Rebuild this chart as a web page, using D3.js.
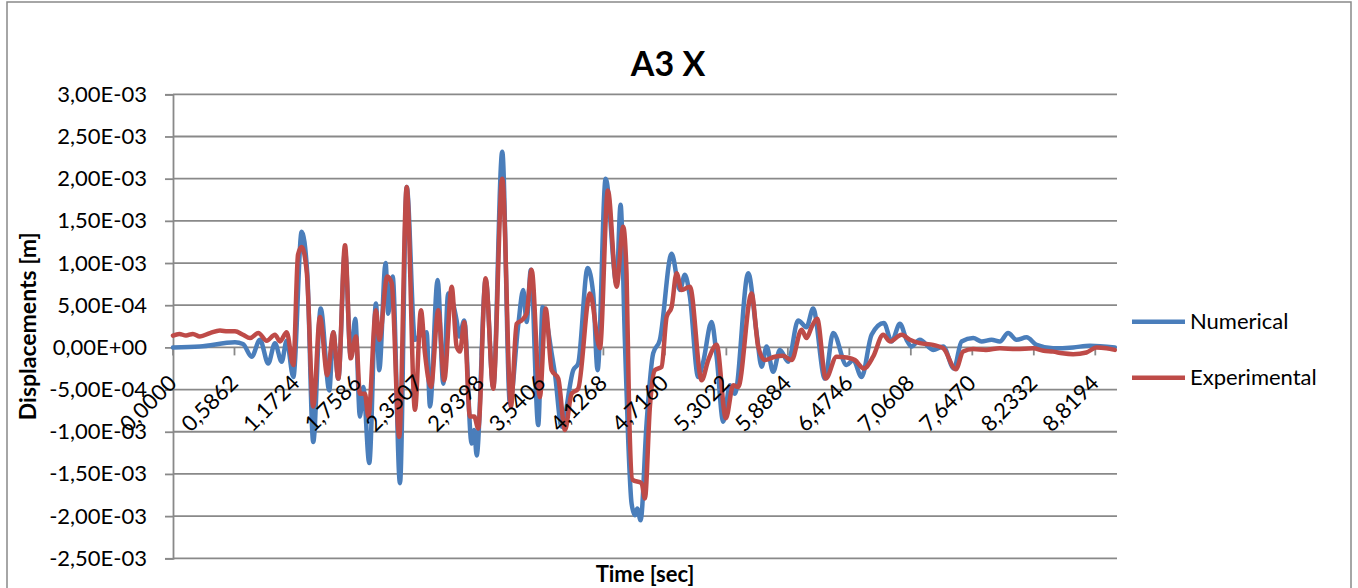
<!DOCTYPE html>
<html>
<head>
<meta charset="utf-8">
<script src="https://cdn.jsdelivr.net/npm/d3@7"></script>
<style>
  html, body { margin: 0; padding: 0; background: #fff; }
  svg { display: block; font-family: Lato, "Open Sans", sans-serif; }
</style>
</head>
<body>
<div id="chart"></div>
<script>
// A3 X - displacement time history, numerical vs experimental
const title = "A3 X";
const xTitle = "Time [sec]";
const yTitle = "Displacements [m]";
const seriesNames = ["Numerical", "Experimental"];

// category labels on the time axis (one every 0.5862 s)
const xLabels = ["0,0000", "0,5862", "1,1724", "1,7586", "2,3507", "2,9398", "3,5406", "4,1268",
  "4,7160", "5,3022", "5,8884", "6,4746", "7,0608", "7,6470", "8,2332", "8,8194"];
const xTickStep = 0.5862;
const xMax = 9.0;

// y ticks in mm (labels show metres)
const yTicks = [3, 2.5, 2, 1.5, 1, 0.5, 0, -0.5, -1, -1.5, -2, -2.5];
const yTickLabels = ["3,00E-03", "2,50E-03", "2,00E-03", "1,50E-03", "1,00E-03", "5,00E-04",
  "0,00E+00", "-5,00E-04", "-1,00E-03", "-1,50E-03", "-2,00E-03", "-2,50E-03"];

// Numerical: time [s], displacement [mm]
const numTime = [0.000, 0.257, 0.591, 0.667, 0.750, 0.829, 0.908, 0.972, 1.036, 1.084, 1.147, 1.227,
  1.280, 1.337, 1.408, 1.490, 1.528, 1.576, 1.640, 1.694, 1.738, 1.782, 1.814, 1.871, 1.935, 1.966,
  2.027, 2.052, 2.094, 2.164, 2.228, 2.307, 2.364, 2.418, 2.450, 2.523, 2.577, 2.624, 2.704, 2.729,
  2.777, 2.847, 2.872, 2.895, 2.981, 3.053, 3.139, 3.212, 3.291, 3.339, 3.371, 3.412, 3.482, 3.524,
  3.610, 3.641, 3.705, 3.816, 3.863, 3.953, 4.006, 4.048, 4.125, 4.229, 4.267, 4.308, 4.340, 4.372,
  4.404, 4.426, 4.458, 4.515, 4.578, 4.642, 4.754, 4.833, 4.880, 4.928, 5.007, 5.055, 5.135, 5.183,
  5.246, 5.309, 5.357, 5.484, 5.564, 5.612, 5.659, 5.722, 5.786, 5.865, 5.960, 6.040, 6.103, 6.215,
  6.294, 6.422, 6.485, 6.565, 6.660, 6.777, 6.851, 6.930, 6.994, 7.041, 7.120, 7.247, 7.343, 7.445,
  7.518, 7.629, 7.709, 7.804, 7.883, 7.962, 8.042, 8.138, 8.233, 8.391, 8.582, 8.741, 8.979];
const numDisp = [0.00, 0.01, 0.06, 0.04, -0.11, 0.09, -0.19, 0.05, -0.17, 0.08, -0.35, 1.37,
  0.88, -1.12, 0.46, -0.51, 0.18, -0.37, 1.15, -0.11, 0.34, -0.82, -0.47, -1.37, 0.52, -0.27,
  1.00, 0.40, 0.84, -1.61, 1.90, 0.09, 0.15, 0.18, -0.70, 0.80, -0.43, 0.64, 0.32, 0.13,
  0.32, -1.14, -0.98, -1.28, 0.80, -0.47, 2.32, -0.66, 0.26, 0.68, 0.30, 0.92, -0.92, 0.48,
  -0.07, -0.31, -0.94, -0.27, -0.19, 0.94, 0.64, -0.27, 2.00, 0.76, 1.69, 0.09, -1.10, -1.85,
  -1.99, -1.91, -2.05, -0.90, -0.07, 0.09, 1.11, 0.68, 0.86, 0.60, -0.35, -0.17, 0.30, -0.11,
  -0.88, -0.45, -0.55, 0.88, 0.17, -0.23, 0.01, -0.29, -0.03, -0.17, 0.32, 0.24, 0.46, -0.37,
  0.17, -0.21, -0.15, -0.35, 0.15, 0.29, 0.07, 0.28, 0.09, 0.01, 0.09, -0.03, 0.01, -0.25,
  0.07, 0.11, 0.07, 0.09, 0.07, 0.17, 0.09, 0.12, 0.03, -0.01, 0.00, 0.02, 0.00];

// Experimental: time [s], displacement [mm]
const expTime = [0.000, 0.060, 0.124, 0.190, 0.257, 0.353, 0.448, 0.520, 0.591, 0.667, 0.734, 0.813,
  0.893, 0.972, 1.020, 1.084, 1.147, 1.192, 1.227, 1.276, 1.337, 1.401, 1.471, 1.528, 1.576, 1.640,
  1.694, 1.745, 1.782, 1.830, 1.862, 1.935, 1.966, 2.043, 2.085, 2.157, 2.228, 2.307, 2.364, 2.402,
  2.459, 2.529, 2.586, 2.657, 2.704, 2.736, 2.777, 2.831, 2.872, 2.910, 2.981, 3.053, 3.139, 3.222,
  3.276, 3.324, 3.371, 3.419, 3.498, 3.553, 3.610, 3.673, 3.737, 3.800, 3.863, 3.975, 4.070, 4.146,
  4.229, 4.292, 4.324, 4.349, 4.382, 4.468, 4.499, 4.547, 4.594, 4.658, 4.706, 4.754, 4.801, 4.849,
  4.928, 5.040, 5.103, 5.183, 5.271, 5.341, 5.388, 5.516, 5.579, 5.643, 5.738, 5.817, 5.898, 5.993,
  6.040, 6.088, 6.141, 6.224, 6.326, 6.422, 6.501, 6.587, 6.675, 6.771, 6.835, 6.946, 7.025, 7.120,
  7.247, 7.343, 7.464, 7.533, 7.628, 7.750, 7.883, 8.040, 8.200, 8.300, 8.391, 8.480, 8.582, 8.709,
  8.805, 8.900, 8.979];
const expDisp = [0.14, 0.16, 0.14, 0.16, 0.13, 0.17, 0.20, 0.19, 0.19, 0.15, 0.11, 0.17,
  0.08, 0.15, 0.07, 0.18, -0.21, 1.10, 1.19, 0.88, -0.70, 0.36, -0.33, 0.18, -0.37, 1.21,
  -0.13, 0.13, -0.55, -0.55, -0.82, 0.44, 0.09, 0.84, 0.76, -1.06, 1.90, -0.74, 0.44, -0.07,
  -0.47, 0.44, -0.39, 0.72, 0.01, -0.05, 0.30, -0.82, -0.82, -0.96, 0.82, -0.49, 2.00, -0.70,
  0.28, 0.32, 0.40, 0.92, -0.59, 0.46, -0.27, -0.37, -0.98, -0.55, -0.49, 0.64, -0.01, 1.86,
  0.72, 1.43, 0.88, -0.78, -1.57, -1.61, -1.79, -0.70, -0.27, -0.23, 0.36, 0.48, 0.88, 0.68,
  0.72, -0.39, -0.15, 0.03, -0.84, -0.45, -0.47, 0.64, 0.01, -0.15, -0.11, -0.10, -0.15, 0.21,
  0.11, 0.24, 0.34, -0.37, -0.11, -0.12, -0.15, -0.25, -0.11, 0.15, 0.07, 0.15, 0.09, 0.05,
  0.03, -0.01, -0.26, -0.05, -0.02, -0.03, -0.01, -0.02, -0.01, -0.04, -0.05, -0.07, -0.08, -0.06,
  0.00, -0.01, -0.03];

const colors = ["#4a7ebb", "#be4b48"];
const gridColor = "#898989";

const width = 1358, height = 588;
const plot = { left: 173, right: 1117, top: 94.3, bottom: 558.3 };

const svg = d3.select("#chart").append("svg")
  .attr("width", width)
  .attr("height", height);

// chart border
svg.append("rect")
  .attr("x", 7).attr("y", 2)
  .attr("width", 1344).attr("height", 620)
  .attr("fill", "none")
  .attr("stroke", gridColor)
  .attr("stroke-width", 1.5);

const x = d3.scaleLinear().domain([0, xMax]).range([plot.left, plot.right]);
const y = d3.scaleLinear().domain([-2.5, 3]).range([plot.bottom, plot.top]);

// y axis with ticks on the left
const yAxis = d3.axisLeft(y)
  .tickValues(yTicks)
  .tickSize(8)
  .tickPadding(18)
  .tickFormat((d, i) => yTickLabels[i]);

const yg = svg.append("g")
  .attr("transform", `translate(${plot.left},0)`)
  .call(yAxis);
yg.select(".domain").attr("stroke", gridColor).attr("stroke-width", 1.8);
yg.selectAll(".tick line").attr("stroke", gridColor).attr("stroke-width", 1.8);
yg.selectAll(".tick text")
  .attr("fill", "#000")
  .style("font-size", "22px")
  .style("font-family", "Lato, sans-serif");

// horizontal gridlines
svg.append("g")
  .selectAll("line")
  .data(yTicks)
  .join("line")
  .attr("x1", plot.left).attr("x2", plot.right)
  .attr("y1", d => y(d)).attr("y2", d => y(d))
  .attr("stroke", gridColor)
  .attr("stroke-width", 1.8);

// x axis along zero line with small ticks
const xTickVals = xLabels.map((_, i) => i * xTickStep);
svg.append("g")
  .selectAll("line")
  .data(xTickVals)
  .join("line")
  .attr("x1", d => x(d)).attr("x2", d => x(d))
  .attr("y1", y(0)).attr("y2", y(0) + 8)
  .attr("stroke", gridColor)
  .attr("stroke-width", 1.8);

// lines
const numData = numTime.map((t, i) => [t, numDisp[i]]);
const expData = expTime.map((t, i) => [t, expDisp[i]]);

const line = d3.line()
  .x(d => x(d[0]))
  .y(d => y(d[1]))
  .curve(d3.curveMonotoneX);

[numData, expData].forEach((data, i) => {
  svg.append("path")
    .datum(data)
    .attr("fill", "none")
    .attr("stroke", colors[i])
    .attr("stroke-width", 4.5)
    .attr("stroke-linejoin", "round")
    .attr("stroke-linecap", "round")
    .attr("d", line);
});

// rotated category labels
svg.append("g")
  .selectAll("text")
  .data(xLabels)
  .join("text")
  .attr("transform", (d, i) => `translate(${x(xTickVals[i]) + 5},${y(0) + 37}) rotate(-45)`)
  .attr("text-anchor", "end")
  .style("font-size", "22px")
  .text(d => d);

// titles
svg.append("text")
  .attr("x", 668)
  .attr("y", 76)
  .attr("text-anchor", "middle")
  .style("font-size", "34px")
  .style("font-weight", "bold")
  .text(title);

svg.append("text")
  .attr("x", (plot.left + plot.right) / 2)
  .attr("y", 582)
  .attr("text-anchor", "middle")
  .style("font-size", "22px")
  .style("font-weight", "bold")
  .text(xTitle);

svg.append("text")
  .attr("transform", `translate(36,${(plot.top + plot.bottom) / 2}) rotate(-90)`)
  .attr("text-anchor", "middle")
  .style("font-size", "23px")
  .style("font-weight", "bold")
  .text(yTitle);

// legend
const legend = svg.append("g");
const legendY = [321.7, 377.7];
seriesNames.forEach((name, i) => {
  legend.append("line")
    .attr("x1", 1132).attr("x2", 1185)
    .attr("y1", legendY[i]).attr("y2", legendY[i])
    .attr("stroke", colors[i])
    .attr("stroke-width", 4.5);
  legend.append("text")
    .attr("x", 1190)
    .attr("y", legendY[i])
    .attr("dy", "0.35em")
    .style("font-size", "22px")
    .text(name);
});
</script>
</body>
</html>
